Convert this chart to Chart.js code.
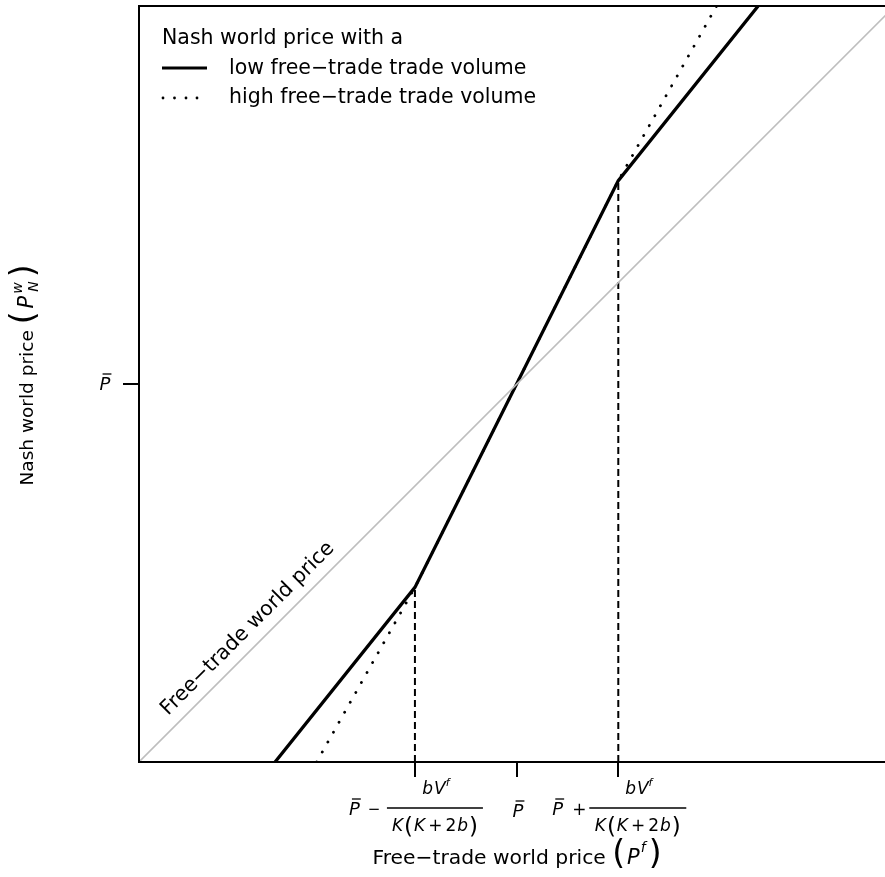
<!DOCTYPE html>
<html>
<head>
    <title>Nash world price</title>
    <script src="https://cdn.jsdelivr.net/npm/chart.js@4"></script>
    <style>
        body { margin: 0; background: #fff; overflow: hidden; }
        canvas { display: block; }
    </style>
</head>
<body>
<canvas id="nash-chart" width="885" height="877"></canvas>

<script>
    // values (P-bar sits at 5 on both axes)
    const freeTradeX = [0, 10];
    const freeTradeY = [0, 10];
    const lowVolumeX = [1.80, 3.65, 6.34, 8.19];
    const lowVolumeY = [0, 2.31, 7.69, 10];
    const highVolumeX = [2.35, 3.65, 6.34, 7.64];
    const highVolumeY = [0, 2.31, 7.69, 10];
    const kinkX = [3.65, 6.34];
    const kinkY = [2.31, 7.69];
    const xTicks = [3.65, 5, 6.34];
    const yTicks = [5];
    const diagLabelAt = 1.6;

    const FAM = '"DejaVu Sans", "Liberation Sans", sans-serif';

    function pts(xs, ys) {
        return xs.map((x, i) => ({x: x, y: ys[i]}));
    }

    // draw a list of text runs left to right, returns total width
    function runs(ctx, parts, x, y, measureOnly) {
        let cx = x;
        parts.forEach(p => {
            ctx.font = p.f;
            const w = ctx.measureText(p.t).width;
            cx += (p.g || 0);
            if (!measureOnly) {
                ctx.fillText(p.t, cx, y + (p.dy || 0));
                if (p.bar) {
                    ctx.lineWidth = 1.3;
                    ctx.beginPath();
                    ctx.moveTo(cx + 3, y - p.bar);
                    ctx.lineTo(cx + w + 1, y - p.bar);
                    ctx.stroke();
                }
            }
            if (!p.noAdvance) cx += w;
        });
        return cx - x;
    }

    function runsCentered(ctx, parts, cx, y) {
        const w = runs(ctx, parts, 0, 0, true);
        runs(ctx, parts, cx - w / 2, y);
    }

    const it = s => 'oblique ' + s + 'px ' + FAM;
    const up = s => s + 'px ' + FAM;

    const numer = [{t: 'b', f: it(17)}, {t: 'V', f: it(17), g: 1}, {t: 'f', f: it(11), dy: -8, g: 0}];
    const denom = [{t: 'K', f: it(17)}, {t: '(', f: up(23), dy: 3, g: 1}, {t: 'K', f: it(17), g: 1},
        {t: '+', f: up(17), g: 3}, {t: '2', f: up(17), g: 3}, {t: 'b', f: it(17), g: 1}, {t: ')', f: up(23), dy: 3, g: 1}];

    function fraction(ctx, x0, x1, yBar) {
        ctx.lineWidth = 1.3;
        ctx.beginPath();
        ctx.moveTo(x0, yBar);
        ctx.lineTo(x1, yBar);
        ctx.stroke();
        runsCentered(ctx, numer, (x0 + x1) / 2 + 1, yBar - 14);
        runsCentered(ctx, denom, (x0 + x1) / 2, yBar + 23);
    }

    const annotations = {
        id: 'annotations',
        afterDatasetsDraw(chart) {
            const ctx = chart.ctx;
            const a = chart.chartArea;
            const xs = chart.scales.x;
            const ys = chart.scales.y;
            ctx.save();
            ctx.fillStyle = '#000';
            ctx.strokeStyle = '#000';

            // frame: left, bottom, top (right edge runs off the page)
            ctx.lineWidth = 2;
            ctx.beginPath();
            ctx.moveTo(a.right + 5, a.top);
            ctx.lineTo(a.left, a.top);
            ctx.lineTo(a.left, a.bottom);
            ctx.lineTo(a.right + 5, a.bottom);
            ctx.stroke();

            // ticks
            ctx.beginPath();
            xTicks.forEach(v => {
                const px = Math.round(xs.getPixelForValue(v));
                ctx.moveTo(px, a.bottom);
                ctx.lineTo(px, a.bottom + 15);
            });
            yTicks.forEach(v => {
                const py = Math.round(ys.getPixelForValue(v));
                ctx.moveTo(a.left, py);
                ctx.lineTo(a.left - 16, py);
            });
            ctx.stroke();

            // x tick labels
            ctx.textAlign = 'left';
            ctx.textBaseline = 'alphabetic';
            const tl = xs.getPixelForValue(xTicks[0]);
            const tc = xs.getPixelForValue(xTicks[1]);
            const tr = xs.getPixelForValue(xTicks[2]);
            const pbar = {t: 'P', f: it(18), bar: 16};

            runs(ctx, [pbar], tl - 66, 815);
            runsCentered(ctx, [{t: '\u2212', f: up(15)}], tl - 41, 814);
            fraction(ctx, tl - 28, tl + 68, 808);

            runsCentered(ctx, [pbar], tc + 1, 817);

            runs(ctx, [pbar], tr - 66, 815);
            runsCentered(ctx, [{t: '+', f: up(17)}], tr - 39, 815);
            fraction(ctx, tr - 29, tr + 68, 808);

            // y tick label
            const py5 = ys.getPixelForValue(yTicks[0]);
            runsCentered(ctx, [pbar], 105, py5 + 6);

            // x axis title
            runsCentered(ctx, [
                {t: 'Free\u2212trade world price ', f: up(20.3)},
                {t: '(', f: up(33), dy: 0},
                {t: 'P', f: it(21), g: 2},
                {t: 'f', f: it(14), dy: -12, g: 1},
                {t: ')', f: up(33), dy: 0, g: 3}
            ], 517, 864);

            // y axis title
            ctx.save();
            ctx.translate(33, 375);
            ctx.rotate(-Math.PI / 2);
            runsCentered(ctx, [
                {t: 'Nash world price ', f: up(18.5)},
                {t: '(', f: up(33), dy: 1},
                {t: 'P', f: it(21), g: 3},
                {t: 'w', f: it(14), dy: -11, g: 2, noAdvance: true},
                {t: 'N', f: it(14), dy: 5, g: 2},
                {t: ')', f: up(33), dy: 1, g: 4}
            ], 0, 0);
            ctx.restore();

            // label along the free-trade line
            ctx.save();
            ctx.translate(xs.getPixelForValue(diagLabelAt), ys.getPixelForValue(diagLabelAt));
            ctx.rotate(-Math.PI / 4);
            ctx.textAlign = 'center';
            ctx.font = up(20.5);
            ctx.fillText('Free\u2212trade world price', 0, -12);
            ctx.restore();

            // legend
            ctx.textAlign = 'left';
            ctx.font = up(20.5);
            ctx.fillText('Nash world price with a', 162, 44);
            ctx.fillText('low free\u2212trade trade volume', 229, 74);
            ctx.fillText('high free\u2212trade trade volume', 229, 103);
            ctx.lineWidth = 3;
            ctx.beginPath();
            ctx.moveTo(162, 68);
            ctx.lineTo(207, 68);
            ctx.stroke();
            [163, 174.5, 186, 197].forEach(x => {
                ctx.beginPath();
                ctx.arc(x, 98, 1.4, 0, Math.PI * 2);
                ctx.fill();
            });

            ctx.restore();
        }
    };

    const ctx = document.getElementById('nash-chart').getContext('2d');
    const chart = new Chart(ctx, {
        type: 'scatter',
        data: {
            datasets: [{
                label: 'Free-trade world price',
                data: pts(freeTradeX, freeTradeY),
                showLine: true,
                borderColor: '#bebebe',
                borderWidth: 1.6,
                pointRadius: 0
            }, {
                label: 'high free-trade trade volume',
                data: pts(highVolumeX, highVolumeY),
                showLine: true,
                borderColor: '#000',
                borderWidth: 2.8,
                borderDash: [0.1, 11.3],
                borderCapStyle: 'round',
                pointRadius: 0
            }, {
                label: 'low free-trade trade volume',
                data: pts(lowVolumeX, lowVolumeY),
                showLine: true,
                borderColor: '#000',
                borderWidth: 3.3,
                pointRadius: 0
            }, {
                label: 'kink left',
                data: pts([kinkX[0], kinkX[0]], [0, kinkY[0]]),
                showLine: true,
                borderColor: '#000',
                borderWidth: 2,
                borderDash: [7, 4],
                pointRadius: 0
            }, {
                label: 'kink right',
                data: pts([kinkX[1], kinkX[1]], [0, kinkY[1]]),
                showLine: true,
                borderColor: '#000',
                borderWidth: 2,
                borderDash: [7, 4],
                pointRadius: 0
            }]
        },
        options: {
            responsive: false,
            animation: false,
            layout: {
                padding: {left: 139, top: 6, right: 0, bottom: 115}
            },
            plugins: {
                legend: {display: false},
                tooltip: {enabled: false}
            },
            scales: {
                x: {type: 'linear', display: false, min: 0, max: 9.868},
                y: {type: 'linear', display: false, min: 0, max: 10}
            }
        },
        plugins: [annotations]
    });
</script>
</body>
</html>
